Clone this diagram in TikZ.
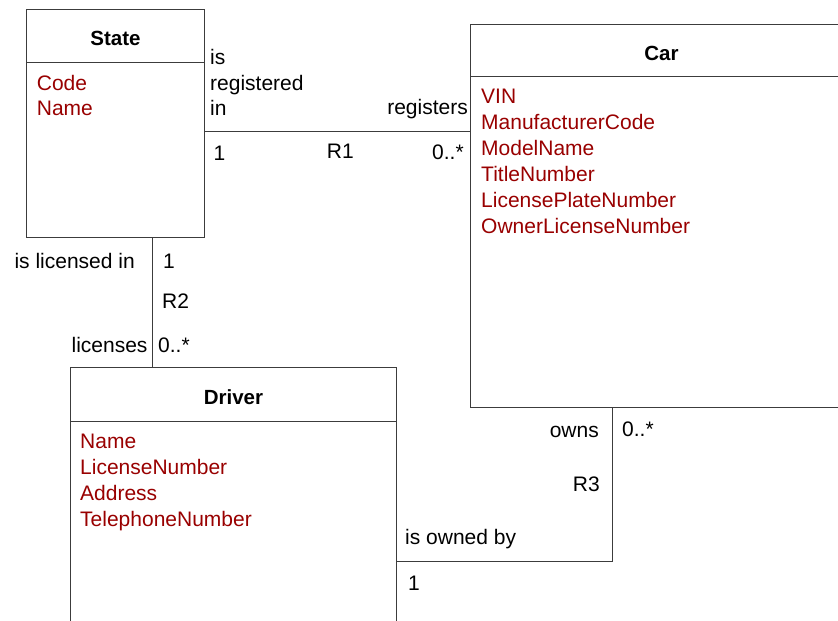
\documentclass[tikz,border=0pt]{standalone}
\usepackage{fontspec}
\setmainfont{Liberation Sans}
\definecolor{attr}{RGB}{153,0,0}
\definecolor{edge}{RGB}{60,60,60}
\begin{document}
\begin{tikzpicture}[x=1pt,y=-1pt,
  font=\fontsize{21}{25}\selectfont,
  box/.style={draw=edge, line width=1pt, fill=white, rectangle, inner sep=0pt, anchor=north west},
  lbl/.style={inner sep=0pt, anchor=base west},
  lblr/.style={inner sep=0pt, anchor=base east},
  attrtxt/.style={lbl, text=attr},
  title/.style={inner sep=0pt, anchor=base, font=\fontsize{20.5}{25}\selectfont\bfseries},
  assoc/.style={draw=edge, line width=1pt},
  divider/.style={draw=edge, line width=1pt}]
\clip (0,0) rectangle (838,621);
\fill[white] (0,0) rectangle (838,621);

% class boxes
\node[box, minimum width=178, minimum height=228] (state) at (26,9) {};
\node[box, minimum width=382, minimum height=383] (car) at (470,23.5) {};
\node[box, minimum width=326, minimum height=300] (driver) at (70,366.7) {};

% header dividers
\draw[divider] (state.west |- 0,62.7) -- (state.east |- 0,62.7);
\draw[divider] (car.west |- 0,76.7) -- (car.east |- 0,76.7);
\draw[divider] (driver.west |- 0,421.3) -- (driver.east |- 0,421.3);

% class names
\node[title] (stateT) at (state.north |- 0,45.7) {State};
\node[title] (carT) at (car.north |- 0,60) {Car};
\node[title] (driverT) at (driver.north |- 0,404) {Driver};

% attributes
\foreach \t [count=\i] in {Code,Name}
  \node[attrtxt] (stateA\i) at (36.7,{90.7+25*(\i-1)}) {\t};
\foreach \t [count=\i] in {VIN,ManufacturerCode,ModelName,TitleNumber,LicensePlateNumber,OwnerLicenseNumber}
  \node[attrtxt] (carA\i) at (481,{103.5+25.9*(\i-1)}) {\t};
\foreach \t [count=\i] in {Name,LicenseNumber,Address,TelephoneNumber}
  \node[attrtxt] (driverA\i) at (80,{448.3+25.9*(\i-1)}) {\t};

% R1: State -- Car
\draw[assoc] (state.east |- 0,131) -- (car.west |- 0,131);
\node[lbl] (r1a) at (210,64) {is};
\node[lbl] (r1b) at (210,90.7) {registered};
\node[lbl] (r1c) at (210,115) {in};
\node[lbl] (r1m1) at (213.5,160) {1};
\node[lbl] (r1name) at (326.7,158.3) {R1};
\node[lblr] (r1d) at (468,114) {registers};
\node[lbl] (r1m2) at (432,159) {0..*};

% R2: State -- Driver
\draw[assoc] (state.south -| 152.3,0) -- (driver.north -| 152.3,0);
\node[lblr] (r2a) at (135,268) {is licensed in};
\node[lbl] (r2m1) at (163,268) {1};
\node[lbl] (r2name) at (162,308) {R2};
\node[lblr] (r2b) at (147.7,352.7) {licenses};
\node[lbl] (r2m2) at (158,352.7) {0..*};

% R3: Car -- Driver
\draw[assoc] (car.south -| 612.3,0) |- (driver.east |- 0,561);
\node[lblr] (r3a) at (599,437.7) {owns};
\node[lbl] (r3m1) at (622,436) {0..*};
\node[lblr] (r3name) at (600,491.7) {R3};
\node[lbl] (r3b) at (405,544) {is owned by};
\node[lbl] (r3m2) at (408,590) {1};
\end{tikzpicture}
\end{document}
